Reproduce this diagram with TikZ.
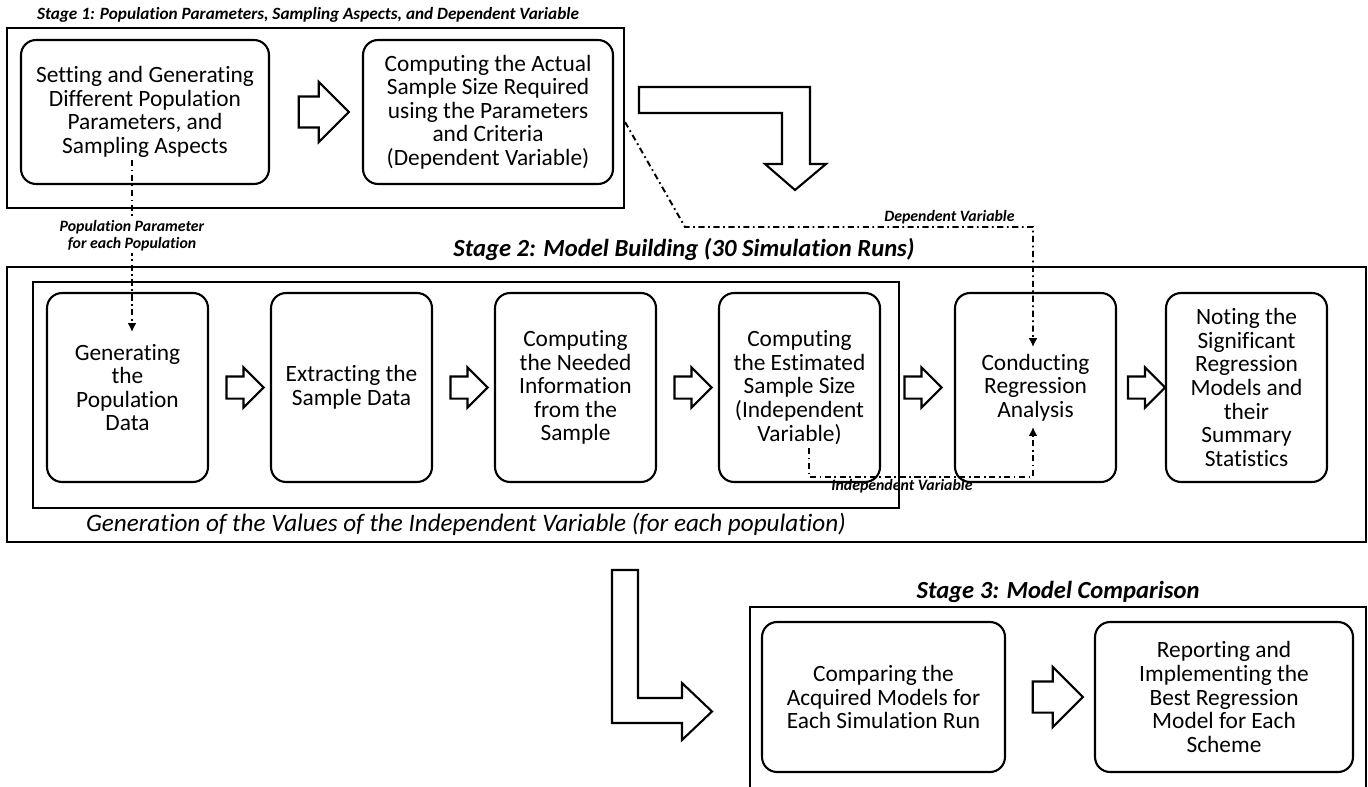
\documentclass[tikz,border=0pt]{standalone}
\usepackage{fontspec}
\setmainfont[RawFeature={-liga;-clig;-calt;-dlig}]{Carlito}
\usepackage{tikz}
\usetikzlibrary{calc,arrows.meta}
\usetikzlibrary{shapes.arrows}
\newcommand{\boxfont}{\fontsize{13.3}{13.4}\selectfont}
\newcommand{\titlefont}{\fontsize{14}{15}\selectfont\bfseries\itshape}
\newcommand{\lblfont}{\fontsize{9}{9.6}\selectfont\bfseries\itshape}

\begin{document}
\begin{tikzpicture}[x=0.02cm, y=-0.02cm, line width=1.2pt,
    procbox/.style={draw, rounded corners=0.3cm, align=center, font=\boxfont, inner sep=1pt},
    bigarrow/.style={draw, single arrow, inner xsep=0pt, inner ysep=0.29cm,
        minimum height=1cm, single arrow head extend=0.29cm},
    smallarrow/.style={draw, single arrow, inner xsep=0pt, inner ysep=0.2cm,
        minimum height=0.74cm, single arrow head extend=0.18cm},
    varline/.style={dash pattern=on 3.5pt off 2pt on 1pt off 2pt, line width=1.1pt},
    lbl/.style={font=\lblfont, align=center, inner sep=1pt}]

    \clip (0,0) rectangle (1368,787);

    % Stage 1: parameters and dependent variable
    \begin{scope}
        \draw (7,28) rectangle (624,208);
        \node[lbl, font=\fontsize{9.8}{10}\selectfont\bfseries\itshape] (st1) at (308,15)
            {Stage 1: Population Parameters, Sampling Aspects, and Dependent Variable};

        \node[procbox, minimum width=4.96cm, minimum height=2.88cm] (setg) at (145,112)
            {Setting and Generating\\Different Population\\Parameters, and\\Sampling Aspects};
        \node[procbox, minimum width=5cm, minimum height=2.88cm] (actual) at (488,112)
            {Computing the Actual\\Sample Size Required\\using the Parameters\\and Criteria\\(Dependent Variable)};
        \node[bigarrow] (setg-actual) at ($(setg.east)!.5!(actual.west)$) {};

        % bent arrow down to stage 2
        \draw (639,87) -- (810,87) -- (810,164) -- (826,164) -- (795,190)
            -- (765,164) -- (782,164) -- (782,113) -- (639,113) -- cycle;
    \end{scope}

    % Stage 2: model building
    \begin{scope}
        \draw (7,267) rectangle (1366,542);
        \draw (33,282) rectangle (899,508);
        \node[font=\titlefont] (st2) at (684,249) {Stage 2: Model Building (30 Simulation Runs)};
        \node[font=\fontsize{14.3}{15}\selectfont\itshape] (gen-txt) at (466,524)
            {Generation of the Values of the Independent Variable (for each population)};

        \foreach \n/\x/\t in {gen/127.5/{Generating\\the\\Population\\Data},
                extr/351.5/{Extracting the\\Sample Data},
                need/575.5/{Computing\\the Needed\\Information\\from the\\Sample},
                est/799.5/{Computing\\the Estimated\\Sample Size\\(Independent\\Variable)},
                cond/1035.5/{Conducting\\Regression\\Analysis},
                note/1246.5/{Noting the\\Significant\\Regression\\Models and\\their\\Summary\\Statistics}} {
            \node[procbox, minimum width=3.22cm, minimum height=3.78cm] (\n) at (\x,387.5) {\t};
        }

        \foreach \a/\b in {gen/extr, extr/need, need/est, est/cond, cond/note} {
            \node[smallarrow] (\a-\b) at ($(\a.east)!.5!(\b.west)$) {};
        }
    \end{scope}

    % Stage 3: model comparison
    \begin{scope}
        \draw (750,607) rectangle (1366,800);
        \node[font=\titlefont] (st3) at (1058,592) {Stage 3: Model Comparison};

        \node[procbox, minimum width=4.86cm, minimum height=3cm] (cmp) at (883.5,697)
            {Comparing the\\Acquired Models for\\Each Simulation Run};
        \node[procbox, minimum width=5.16cm, minimum height=3cm] (rep) at (1224,697)
            {Reporting and\\Implementing the\\Best Regression\\Model for Each\\Scheme};
        \node[bigarrow] (cmp-rep) at ($(cmp.east)!.5!(rep.west)$) {};

        % bent arrow from stage 2
        \draw (612,570) -- (638,570) -- (638,698) -- (682,698) -- (682,683) -- (712,711.5)
            -- (682,740) -- (682,723) -- (612,723) -- cycle;
    \end{scope}

    % variable lines
    \coordinate (popS) at (132,160);
    \coordinate (popE) at (132,332);
    \draw[varline, -{Latex[length=5pt,width=5pt]}] (popS) -- (popE);
    \node[lbl, fill=white] (poplbl) at (132,236) {Population Parameter\\for each Population};

    \coordinate (depS) at (625,122);
    \coordinate (depK) at (685,227);
    \coordinate (depE) at (1033,347);
    \draw[varline, -{Latex[length=5pt,width=5pt]}] (depS) -- (depK)
        -- node[lbl, above, pos=.76] (deplbl) {Dependent Variable} (depK -| depE) -- (depE);

    \coordinate (indS) at (809,448);
    \coordinate (indE) at (1033,427);
    \draw[varline, -{Latex[length=5pt,width=5pt]}] (indS) -- (indS |- 0,477)
        -- node[lbl, below, pos=.415] (indlbl) {Independent Variable} (indE |- 0,477) -- (indE);
\end{tikzpicture}
\end{document}
